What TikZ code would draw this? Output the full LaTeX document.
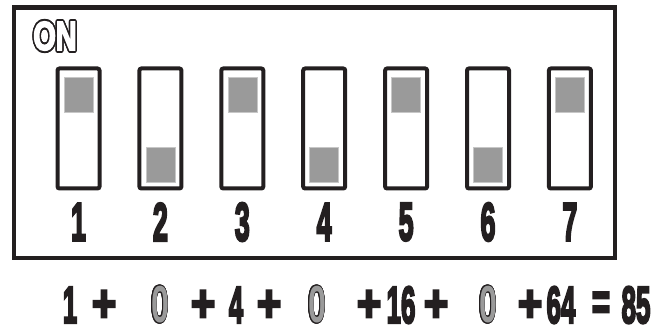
\documentclass[tikz,border=0pt]{standalone}
\usepackage{fontspec}
\setmainfont{Liberation Sans}
\newfontfamily\heavyfont{Liberation Sans}[BoldFeatures={FakeBold=5}]
\usepackage{contour}
\usetikzlibrary{positioning}
\definecolor{inkblack}{HTML}{231F20}
\definecolor{knobgray}{HTML}{9A9A9A}
\newcommand{\hollowzero}{{\contourlength{1.2pt}\contour{inkblack}{\textcolor{knobgray}{0}}}}
\newcommand{\onmark}{{\contourlength{2pt}\contour{inkblack}{\textcolor{white}{ON}}}}

\begin{document}
\begin{tikzpicture}[x=1pt,y=-1pt,
			frame/.style={draw=inkblack,line width=4.5pt},
			switchbox/.style={draw=inkblack,line width=4pt,rounded corners=2pt,minimum width=42pt,minimum height=120pt,inner sep=0pt},
			knob/.style={fill=knobgray,draw=knobgray!55,line width=0.6pt,minimum width=29pt,minimum height=35pt,inner sep=0pt},
			digit/.style={font=\heavyfont\bfseries\fontsize{54}{54}\selectfont,text=inkblack,xscale=0.5,inner sep=0pt},
			sumtok/.style={font=\heavyfont\bfseries\fontsize{52}{52}\selectfont,text=inkblack,xscale=0.5,inner sep=0pt},
			optok/.style={sumtok,xscale=1.6},
			zerotok/.style={font=\bfseries\fontsize{52}{52}\selectfont,xscale=0.62,inner sep=0pt}
			]
			\useasboundingbox (0,0) rectangle (666,328);
			\draw[frame] (14,7.5) rectangle (615,258);
			\node[font=\heavyfont\bfseries\fontsize{40}{40}\selectfont,xscale=0.72,inner sep=0pt] (onlabel) at (55,37) {\onmark};
			% switches, knobs and their numbers
			\foreach \i/\ky in {1/94.5,2/164.5,3/94.5,4/164.5,5/94.5,6/164.5,7/94.5}{
				\pgfmathsetmacro\sx{78.5+(\i-1)*81.9}
				\node[switchbox] (sw\i) at (\sx,128.5) {};
				\node[knob] (knob\i) at (\sx,\ky) {};
				\node[digit] (num\i) at (\sx,222) {\i};
			}
			% the sum below
			\foreach \x/\t [count=\k] in {70/1,236/4,401/16,561/64,636/85}
				\node[sumtok] (val\k) at (\x,305) {\t};
			\foreach \x [count=\k] in {160,317,488}
				\node[zerotok] (zero\k) at (\x,305) {\hollowzero};
			\foreach \x [count=\k] in {104,203,269,369,436,530}
				\node[optok] (op\k) at (\x,306) {+};
			\node[sumtok,xscale=1.2] (eq) at (601,306) {=};
		\end{tikzpicture}
\end{document}
